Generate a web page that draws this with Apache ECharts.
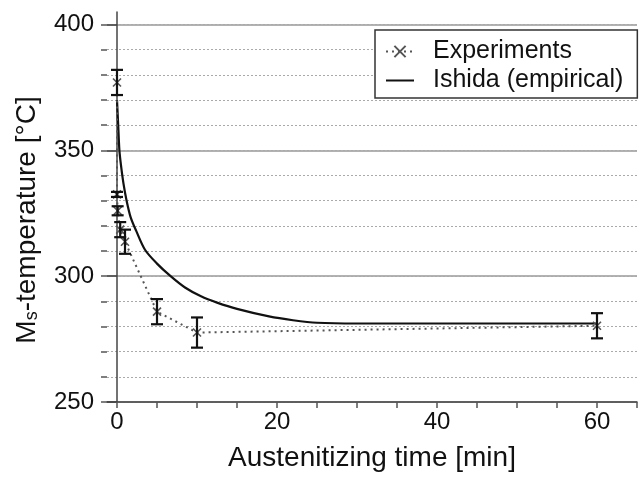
<!DOCTYPE html>
<html>
<head>
<meta charset="utf-8">
<script src="https://cdn.jsdelivr.net/npm/echarts@6/dist/echarts.min.js"></script>
<style>
html,body{margin:0;padding:0;background:#fff;}
#main{width:644px;height:480px;}
</style>
</head>
<body>
<div id="main"></div>
<script>
// experiments (time in min, Ms in °C, error +/-)
var expTime = [0, 0, 0.08, 0.4, 1, 5, 10, 60];
var expMs = [377, 332.5, 326, 318.5, 313.7, 285.9, 277.6, 280.3];
var expErr = [5, 1, 1.8, 3, 4.8, 5, 6, 5];
// Ishida (empirical) curve
var ishidaTime = [0, 0.15, 0.3, 0.5, 0.8, 1.2, 1.7, 2.4, 3.5, 5, 6.7, 8.5, 10.5, 12.5, 15, 19, 22, 25, 30, 60];
var ishidaMs = [370, 360, 350, 344, 337, 330, 323.5, 318, 310.5, 305, 300, 295.5, 292, 289.5, 287, 284, 282.5, 281.5, 281.2, 281.2];
// axis ticks
var xTickValues = [0, 5, 10, 15, 20, 25, 30, 35, 40, 45, 50, 55, 60, 65];
var xLabelValues = [0, 20, 40, 60];
var yMinorValues = [250, 260, 270, 280, 290, 300, 310, 320, 330, 340, 350, 360, 370, 380, 390, 400];
var yMajorValues = [250, 300, 350, 400];

var FONT = 'Liberation Sans';

var expData = [];
var errData = [];
for (var i = 0; i < expTime.length; i++) {
    expData.push([expTime[i], expMs[i]]);
    errData.push([expTime[i], expMs[i], expErr[i]]);
}
var ishidaData = [];
for (var j = 0; j < ishidaTime.length; j++) {
    ishidaData.push([ishidaTime[j], ishidaMs[j]]);
}

function errorBar(params, api) {
    var x = api.value(0), y = api.value(1), e = api.value(2);
    var top = api.coord([x, y + e]);
    var bot = api.coord([x, y - e]);
    var hw = 6;
    var st = {stroke: '#111', lineWidth: 2.2};
    return {
        type: 'group',
        children: [
            {type: 'line', shape: {x1: top[0], y1: top[1], x2: bot[0], y2: bot[1]}, style: st},
            {type: 'line', shape: {x1: top[0] - hw, y1: top[1], x2: top[0] + hw, y2: top[1]}, style: st},
            {type: 'line', shape: {x1: bot[0] - hw, y1: bot[1], x2: bot[0] + hw, y2: bot[1]}, style: st}
        ]
    };
}

var myChart = echarts.init(document.getElementById('main'));
var option = {
    animation: false,
    backgroundColor: '#fff',
    textStyle: {fontFamily: FONT, color: '#111'},
    grid: {left: 107, top: 12, width: 530, height: 390},
    legend: {
        data: [
            {name: 'Experiments'},
            {name: 'Ishida (empirical)', itemStyle: {opacity: 0}}
        ],
        orient: 'vertical',
        left: 375,
        top: 30,
        backgroundColor: '#fff',
        borderColor: '#333',
        borderWidth: 1.5,
        borderRadius: 0,
        padding: [9, 14, 5, 10],
        itemGap: 4,
        itemWidth: 28,
        itemHeight: 14,
        textStyle: {fontFamily: FONT, fontSize: 25, color: '#111', padding: [0, 0, 0, 14]}
    },
    xAxis: {
        type: 'value',
        min: -1.25,
        max: 65,
        name: 'Austenitizing time [min]',
        nameLocation: 'middle',
        nameGap: 42,
        nameTextStyle: {fontFamily: FONT, fontSize: 28, color: '#111'},
        axisLine: {show: true, lineStyle: {color: '#444', width: 1.5}},
        axisTick: {show: true, customValues: xTickValues, length: 6, lineStyle: {color: '#555', width: 1.5}},
        axisLabel: {customValues: xLabelValues, fontFamily: FONT, fontSize: 24, color: '#111', margin: 8},
        splitLine: {show: false}
    },
    yAxis: [{
        type: 'value',
        min: 250,
        max: 405,
        position: 'left',
        name: '{m|M}{s|s}{m|-temperature [°C]}',
        nameLocation: 'middle',
        nameGap: 66,
        nameTextStyle: {
            padding: [0, 26, 0, 0],
            rich: {
                m: {fontFamily: FONT, fontSize: 28, color: '#111'},
                s: {fontFamily: FONT, fontSize: 18, color: '#111', verticalAlign: 'bottom'}
            }
        },
        axisLine: {show: true, lineStyle: {color: '#444', width: 1.5}},
        axisTick: {show: true, customValues: yMajorValues, length: 10, lineStyle: {color: '#444', width: 1.5}},
        axisLabel: {customValues: yMajorValues, fontFamily: FONT, fontSize: 24, color: '#111', margin: 13},
        splitLine: {show: true, lineStyle: {color: '#999', width: 1.5}}
    }, {
        type: 'value',
        min: 250,
        max: 405,
        position: 'left',
        axisLine: {show: false},
        axisTick: {show: true, customValues: yMinorValues, length: 6, lineStyle: {color: '#555', width: 1.5}},
        axisLabel: {show: false},
        splitLine: {show: true, lineStyle: {color: '#aaa', width: 1, type: [2, 2]}}
    }],
    series: [{
        name: 'Ishida (empirical)',
        type: 'line',
        data: ishidaData,
        symbol: 'none',
        smooth: 0.3,
        z: 3,
        itemStyle: {color: '#111'},
        lineStyle: {color: '#111', width: 2.2}
    }, {
        name: 'Experiments',
        type: 'line',
        data: expData,
        symbol: 'path://M0,0L10,10M10,0L0,10',
        symbolSize: 8,
        itemStyle: {color: 'transparent', borderColor: '#555', borderWidth: 1.6},
        z: 4,
        lineStyle: {color: '#555', width: 2, type: [2, 4]}
    }, {
        name: 'err',
        type: 'custom',
        data: errData,
        renderItem: errorBar,
        z: 5
    }]
};
myChart.setOption(option);
</script>
</body>
</html>
